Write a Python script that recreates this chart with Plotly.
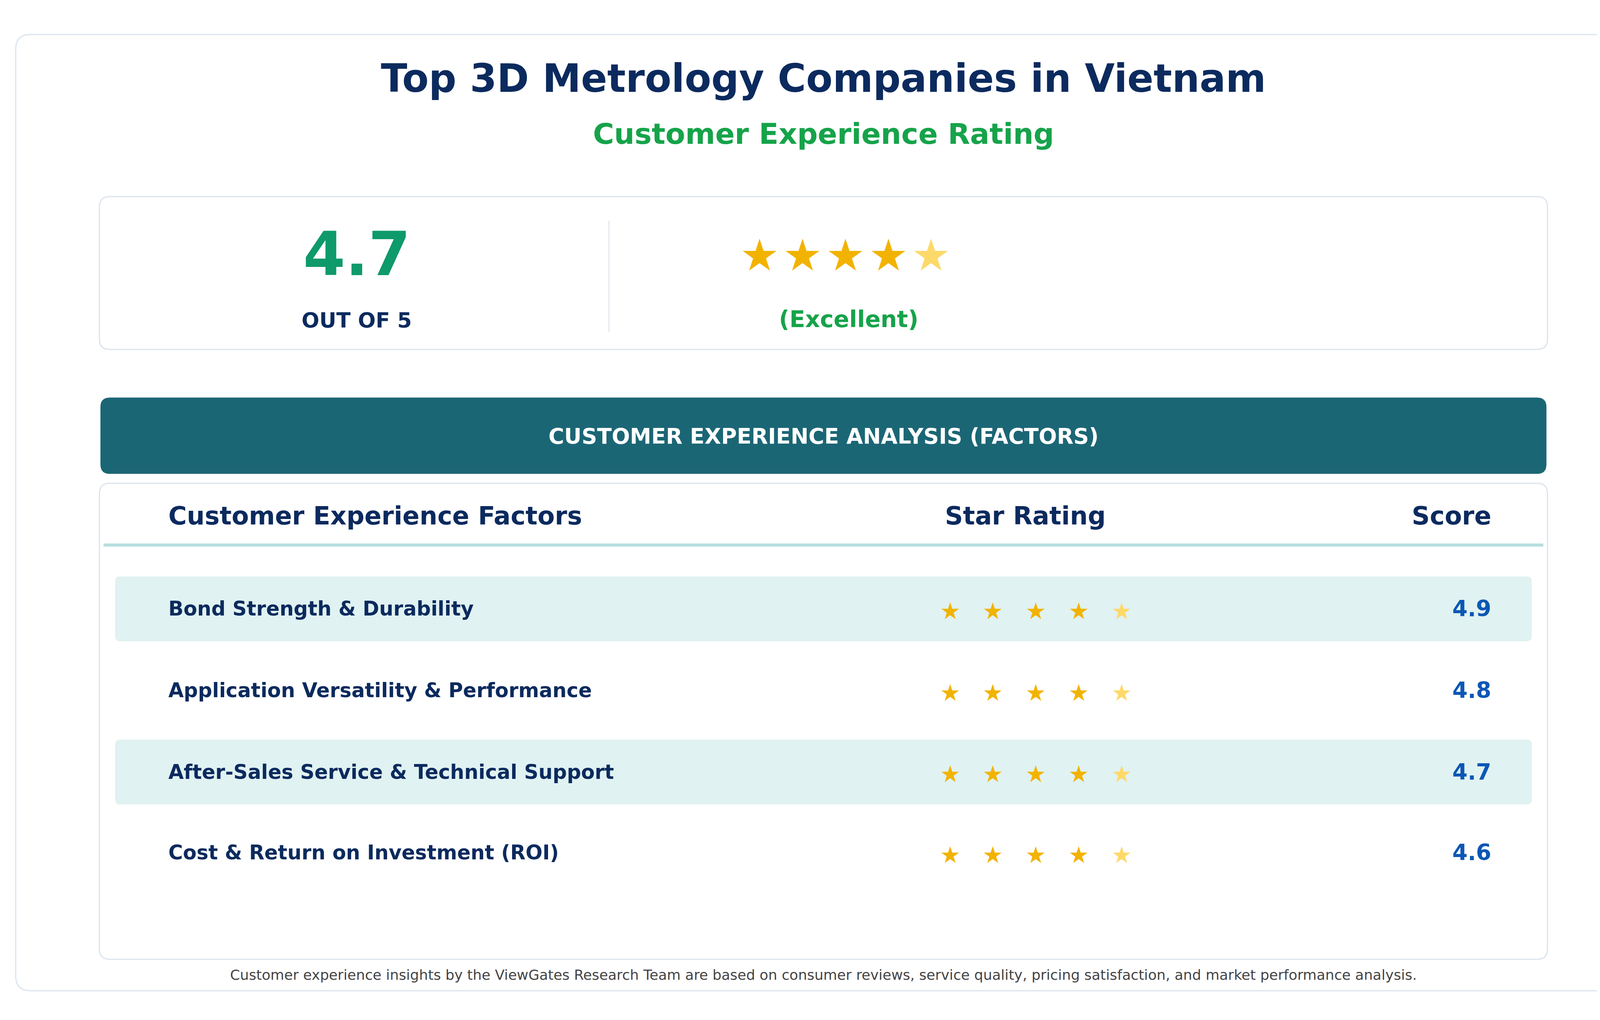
import plotly.graph_objects as go

title = "Top 3D Metrology Companies in Vietnam"
subtitle = "Customer Experience Rating"
overall_score = 4.7
overall_label = "(Excellent)"
factors = ["Bond Strength & Durability", "Application Versatility & Performance",
           "After-Sales Service & Technical Support", "Cost & Return on Investment (ROI)"]
scores = [4.9, 4.8, 4.7, 4.6]
footnote = ("Customer experience insights by the ViewGates Research Team are based on consumer reviews, "
            "service quality, pricing satisfaction, and market performance analysis.")

W, H = 1568, 975
K = 4200 / W
NAVY = "#0B2A5E"; GREEN = "#16A34A"; GREEN2 = "#0E9A6A"; TEAL = "#1B6675"
BAND = "#E0F2F1"; BLUE = "#0B57B5"; STAR = "#F2B300"; STAR_L = "#FDD96A"
FONT = "DejaVu Sans"

fig = go.Figure()
shapes = []
ann = []

def rrect(x0, y0, x1, y1, r, fill, line=None, lw=0):
    p = (f"M{x0+r},{y0} L{x1-r},{y0} Q{x1},{y0} {x1},{y0+r} L{x1},{y1-r} Q{x1},{y1} {x1-r},{y1} "
         f"L{x0+r},{y1} Q{x0},{y1} {x0},{y1-r} L{x0},{y0+r} Q{x0},{y0} {x0+r},{y0} Z")
    shapes.append(dict(type="path", path=p, xref="x", yref="y", fillcolor=fill,
                       line=dict(color=line or fill, width=lw * K if line else 0), layer="below"))

def txt(x, y, s, size, color, bold=True, anchor="center"):
    t = f"<b>{s}</b>" if bold else s
    ann.append(dict(x=x, y=y, xref="x", yref="y", text=t, showarrow=False, xanchor=anchor,
                    yanchor="middle", font=dict(family=FONT, size=size * K, color=color)))

rrect(12, 30, 1556, 944, 14, "white", "#DDE5F0", 1.2)
txt(784, 72, title, 37, NAVY)
txt(784, 125, subtitle, 27.5, GREEN)

rrect(92, 185, 1476, 331, 10, "white", "#DDE5F0", 1.2)
txt(338, 240, f"{overall_score}", 58, GREEN2)
txt(338, 303, "OUT OF 5", 20, NAVY)
shapes.append(dict(type="line", x0=579, x1=579, y0=208, y1=314, xref="x", yref="y",
                   line=dict(color="#E3E8EF", width=1.2 * K)))
for i in range(5):
    txt(723 + 41 * i, 241, "★", 42, STAR if i < 4 else STAR_L, bold=False)
txt(808, 302, overall_label, 22, GREEN)

rrect(93, 377, 1475, 450, 9, TEAL)
txt(784, 414, "CUSTOMER EXPERIENCE ANALYSIS (FACTORS)", 20.5, "white")

rrect(92, 459, 1476, 914, 10, "white", "#DDE5F0", 1.2)
txt(157, 490, "Customer Experience Factors", 24, NAVY, anchor="left")
txt(977, 490, "Star Rating", 24, NAVY)
txt(1423, 490, "Score", 24, NAVY, anchor="right")
shapes.append(dict(type="line", x0=96, x1=1472, y0=518, y1=518, xref="x", yref="y",
                   line=dict(color="#B8DEDE", width=3 * K)))

row_y = [579, 657, 735, 812]
for i, (f, s) in enumerate(zip(factors, scores)):
    y = row_y[i]
    if i % 2 == 0:
        rrect(107, y - 31, 1461, y + 31, 5, BAND)
    txt(157, y, f, 19, NAVY, anchor="left")
    for j in range(5):
        txt(905 + 41 * j, y + 2, "★", 22, STAR if j < 4 else STAR_L, bold=False)
    txt(1423, y, f"{s}", 21, BLUE, anchor="right")

txt(784, 929, footnote, 13.5, "#444444", bold=False)

fig.update_layout(width=4200, height=2610, margin=dict(l=0, r=0, t=0, b=0),
                  paper_bgcolor="white", plot_bgcolor="white", shapes=shapes, annotations=ann,
                  xaxis=dict(range=[0, W], visible=False, fixedrange=True),
                  yaxis=dict(range=[H, 0], visible=False, fixedrange=True),
                  showlegend=False)
fig.write_html("out.html")
